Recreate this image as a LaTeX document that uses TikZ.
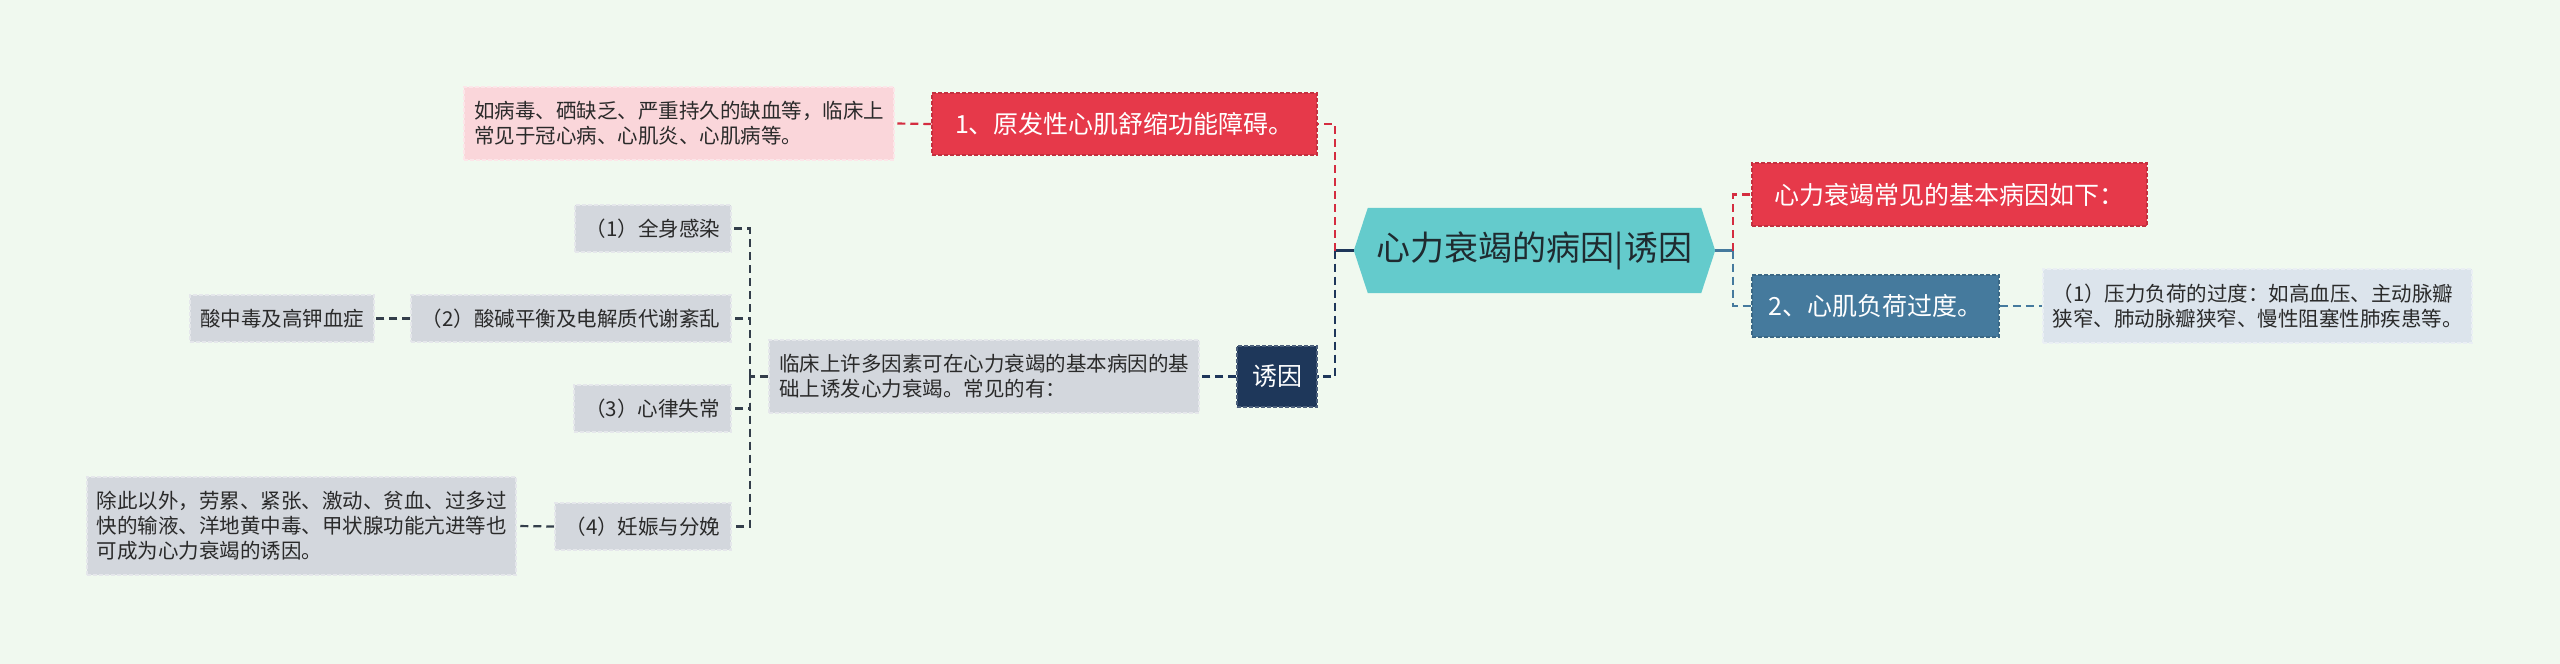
\documentclass[tikz,border=0pt]{standalone}
\usepackage{fontspec}
\setmainfont{Noto Sans CJK SC}
\usetikzlibrary{backgrounds}
\definecolor{bgc}{HTML}{F0F9EF}
\definecolor{hexc}{HTML}{64CBCC}
\definecolor{redc}{HTML}{E6394A}
\definecolor{redl}{HTML}{D42D40}
\definecolor{bluec}{HTML}{457A9D}
\definecolor{navyc}{HTML}{1E375A}
\definecolor{pinkc}{HTML}{FAD6DA}
\definecolor{grayc}{HTML}{D3D7DD}
\definecolor{lbluec}{HTML}{DCE4EC}
\definecolor{darkc}{HTML}{333E4A}
\definecolor{textc}{HTML}{2A2A2A}
\definecolor{roottext}{HTML}{1F2B30}
\begin{document}
\begin{tikzpicture}[x=1pt,y=-1pt,
  box/.style={rectangle, inner sep=0pt, align=left, line width=1.5pt, dash pattern=on 4pt off 2pt},
  bigf/.style={font=\fontsize{25}{30}\selectfont},
  smallf/.style={font=\fontsize{20.5}{25}\selectfont},
  redbox/.style={box, bigf, fill=redc, draw=redc!85!black, text=white},
  bluebox/.style={box, bigf, fill=bluec, draw=bluec!85!black, text=white},
  navybox/.style={box, bigf, fill=navyc, draw=navyc!80!white, text=white},
  pinkbox/.style={box, smallf, fill=pinkc, draw=pinkc!60!white, text=textc},
  graybox/.style={box, smallf, fill=grayc, draw=grayc!60!white, text=textc},
  lbluebox/.style={box, smallf, fill=lbluec, draw=lbluec!60!white, text=textc},
  conn/.style={line width=2.2pt, dash pattern=on 8pt off 5pt},
  stub/.style={line width=3pt},
]
\useasboundingbox (0,0) rectangle (2560,664);

% nodes
\node[rectangle, inner sep=0pt, minimum width=361pt, minimum height=85pt,
      font=\fontsize{34}{40}\selectfont, text=roottext] (root) at (1534.5,250.5) {心力衰竭的病因|诱因};
\node[redbox, minimum width=395pt, minimum height=63pt] (R1) at (1949.5,194.5) {心力衰竭常见的基本病因如下：};
\node[bluebox, minimum width=247pt, minimum height=62pt] (R2) at (1875.5,306) {2、心肌负荷过度。};
\node[lbluebox, minimum width=429pt, minimum height=74pt] (R2c) at (2257.5,306)
  {（1）压力负荷的过度：如高血压、主动脉瓣\\狭窄、肺动脉瓣狭窄、慢性阻塞性肺疾患等。};
\node[redbox, minimum width=385pt, minimum height=62pt] (L1) at (1124.5,124) {1、原发性心肌舒缩功能障碍。};
\node[pinkbox, minimum width=430pt, minimum height=73pt] (pink) at (679,123.5)
  {如病毒、硒缺乏、严重持久的缺血等，临床上\\常见于冠心病、心肌炎、心肌病等。};
\node[navybox, minimum width=80pt, minimum height=61pt] (yin) at (1277,376.5) {诱因};
\node[graybox, minimum width=430pt, minimum height=73pt] (gray) at (984,376.5)
  {临床上许多因素可在心力衰竭的基本病因的基\\础上诱发心力衰竭。常见的有：};
\node[graybox, minimum width=156pt, minimum height=47pt] (c1) at (653,228.5) {（1）全身感染};
\node[graybox, minimum width=320pt, minimum height=47pt] (c2) at (571,318.5) {（2）酸碱平衡及电解质代谢紊乱};
\node[graybox, minimum width=184pt, minimum height=47pt] (acid) at (282,318.5) {酸中毒及高钾血症};
\node[graybox, minimum width=157pt, minimum height=47pt] (c3) at (652.5,408.5) {（3）心律失常};
\node[graybox, minimum width=176pt, minimum height=47pt] (c4) at (643,526.5) {（4）妊娠与分娩};
\node[graybox, minimum width=429pt, minimum height=98pt] (extra) at (301.5,526)
  {除此以外，劳累、紧张、激动、贫血、过多过\\快的输液、洋地黄中毒、甲状腺功能亢进等也\\可成为心力衰竭的诱因。};

\coordinate (jl) at (1335,250.5);
\coordinate (jr) at (1733,250.5);
\coordinate (jg) at (750,376.5);

\begin{pgfonlayer}{background}
\fill[bgc] (0,0) rectangle (2560,664);
\fill[hexc] ([xshift=14pt]root.north west) -- ([xshift=-14pt]root.north east) -- (root.east)
  -- ([xshift=-14pt]root.south east) -- ([xshift=14pt]root.south west) -- (root.west) -- cycle;
\draw[stub, navyc] (root.west) -- (jl);
\draw[conn, redl] (jl) |- (L1.east);
\draw[conn, navyc] (jl) |- (yin.east);
\draw[stub, bluec] (root.east) -- (jr);
\draw[conn, redl] (jr) |- (R1.west);
\draw[conn, bluec] (jr) |- (R2.west);
\draw[conn, bluec] (R2.east) -- (R2c.west);
\draw[conn, redl] (L1.west) -- (pink.east);
\draw[conn, navyc] (yin.west) -- (gray.east);
\draw[conn, darkc] (gray.west) -- (jg);
\draw[conn, darkc] (jg) |- (c1.east);
\draw[conn, darkc] (jg) |- (c2.east);
\draw[conn, darkc] (jg) |- (c3.east);
\draw[conn, darkc] (jg) |- (c4.east);
\draw[conn, darkc] (c2.west) -- (acid.east);
\draw[conn, darkc] (c4.west) -- (extra.east);
\end{pgfonlayer}
\end{tikzpicture}
\end{document}
